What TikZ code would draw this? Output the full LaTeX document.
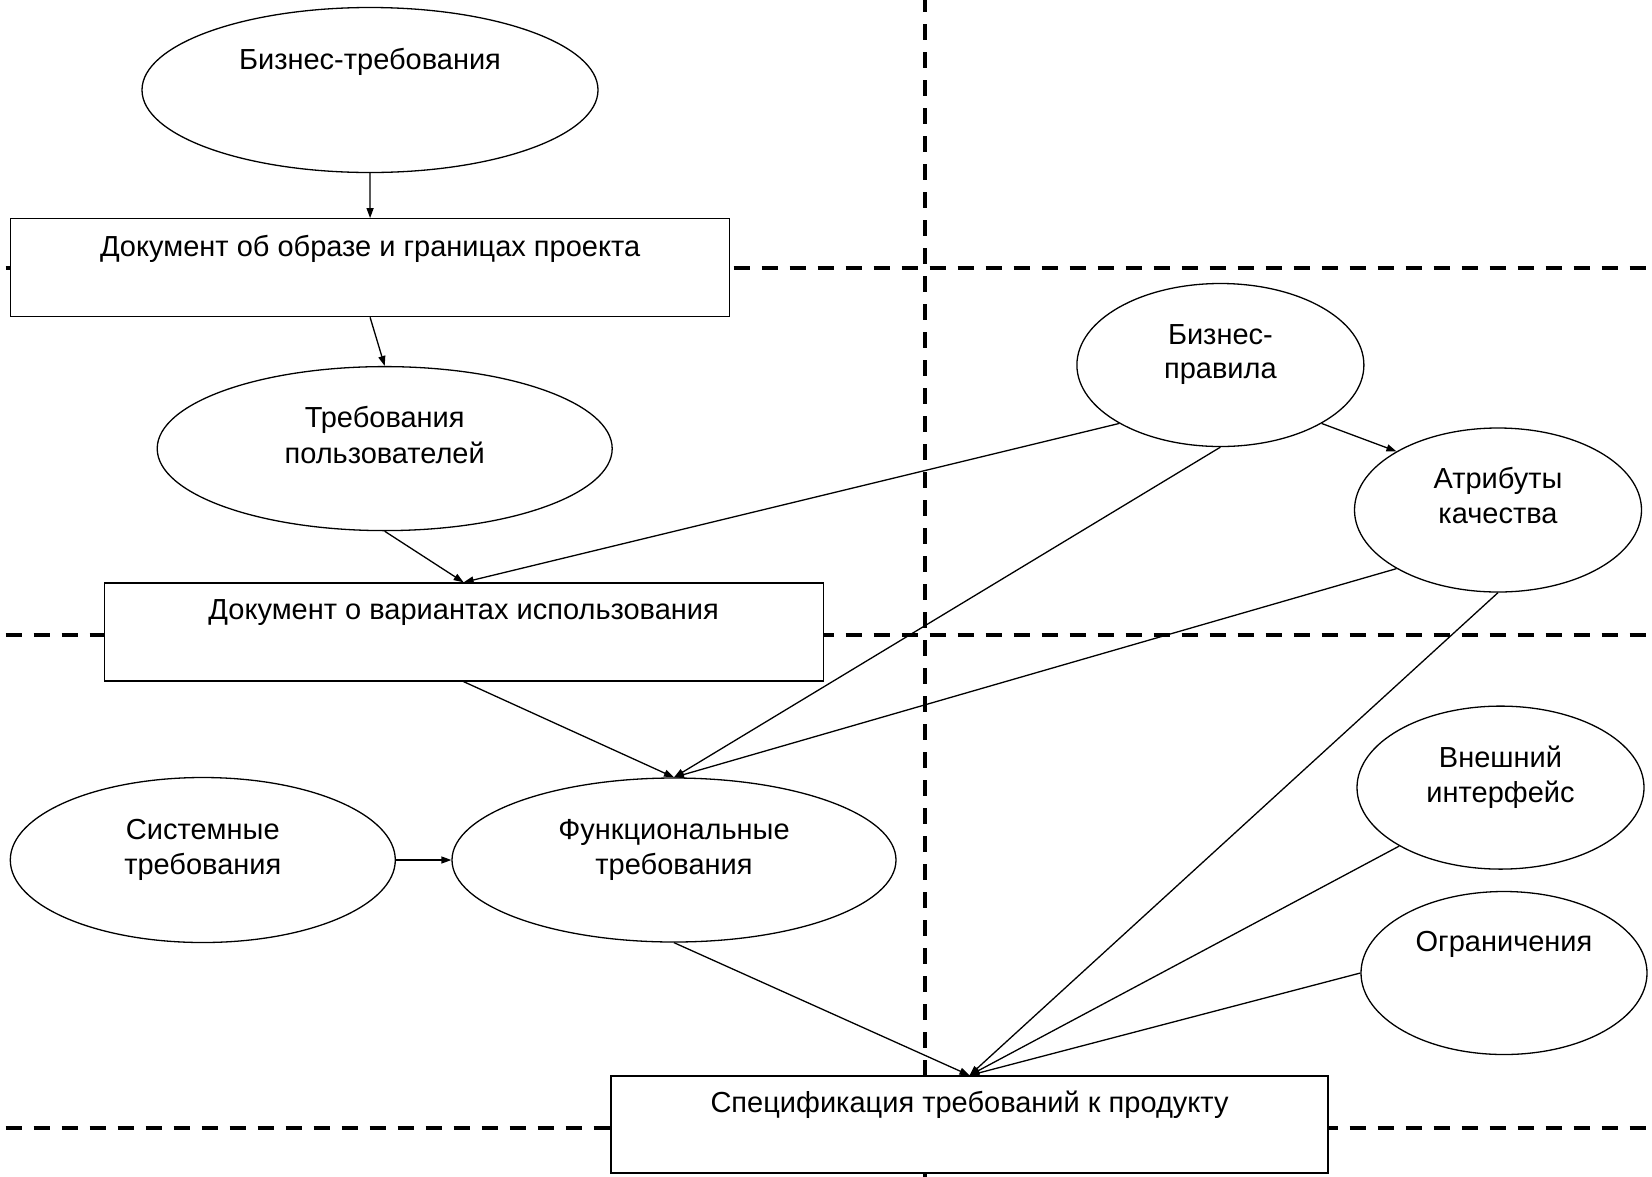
\documentclass[tikz,border=0pt]{standalone}
\usepackage{fontspec}
\setmainfont{Liberation Sans}
\usetikzlibrary{arrows.meta,shapes.geometric}
\tikzset{
  ell/.style={draw=black, line width=1.3pt, ellipse, fill=white, inner sep=0pt},
  docbox/.style={draw=black, line width=1.3pt, rectangle, fill=white, inner sep=0pt},
  txt/.style={inner sep=0pt, anchor=base, font=\fontsize{29}{35}\selectfont},
  conn/.style={line width=1.3pt},
  arr/.style={line width=1.3pt, -{Triangle[length=10pt,width=7pt]}},
  sep/.style={line width=4pt, dash pattern=on 16pt off 12pt}
}
\begin{document}
\begin{tikzpicture}[x=1pt,y=-1pt]
\useasboundingbox (0,0) rectangle (1652,1176);
% separators
\coordinate (h1a) at (5.7,268); \coordinate (h1b) at (1646,268);
\coordinate (h2a) at (5.7,635); \coordinate (h2b) at (1646,635);
\coordinate (h3a) at (5.7,1128); \coordinate (h3b) at (1646,1128);
\coordinate (v1a) at (925,-4); \coordinate (v1b) at (925,1180);
\draw[sep] (h1a) -- (h1b);
\draw[sep] (h2a) -- (h2b);
\draw[sep] (h3a) -- (h3b);
\draw[sep] (v1a) -- (v1b);
% shapes
\node[ell, minimum width=456pt, minimum height=165pt] (bt) at (370,90) {};
\node[docbox, minimum width=719pt, minimum height=98pt] (d1) at (370.1,267.7) {};
\node[ell, minimum width=455pt, minimum height=164pt] (up) at (384.7,448.6) {};
\node[docbox, minimum width=719pt, minimum height=98pt] (d2) at (463.65,632) {};
\node[ell, minimum width=385pt, minimum height=165pt] (sys) at (202.8,860) {};
\node[ell, minimum width=444pt, minimum height=164pt] (fr) at (674,860) {};
\node[ell, minimum width=287pt, minimum height=163pt] (bp) at (1220.4,365) {};
\node[ell, minimum width=287pt, minimum height=164pt] (attr) at (1498,510) {};
\node[ell, minimum width=287pt, minimum height=163pt] (ext) at (1500.5,787.6) {};
\node[ell, minimum width=286pt, minimum height=163pt] (ogr) at (1504,973) {};
\node[docbox, minimum width=717pt, minimum height=97pt] (spec) at (969.5,1124.5) {};
% texts
\node[txt] (tbt) at (370,69) {Бизнес-требования};
\node[txt] (td1) at (370.1,256) {Документ об образе и границах проекта};
\node[txt] (tup1) at (384.7,427) {Требования};
\node[txt] (tup2) at (384.7,463) {пользователей};
\node[txt] (td2) at (463.65,619.5) {Документ о вариантах использования};
\node[txt] (tsys1) at (202.8,839) {Системные};
\node[txt] (tsys2) at (202.8,874.5) {требования};
\node[txt] (tfr1) at (674,839) {Функциональные};
\node[txt] (tfr2) at (674,874.5) {требования};
\node[txt] (tbp1) at (1220.4,344) {Бизнес-};
\node[txt] (tbp2) at (1220.4,378.5) {правила};
\node[txt] (tat1) at (1498,488) {Атрибуты};
\node[txt] (tat2) at (1498,523) {качества};
\node[txt] (tex1) at (1500.5,767.6) {Внешний};
\node[txt] (tex2) at (1500.5,802) {интерфейс};
\node[txt] (togr) at (1504,951.3) {Ограничения};
\node[txt] (tspec) at (969.5,1112.6) {Спецификация требований к продукту};
% connectors
\draw[arr] (bt.south) -- (d1.north);
\draw[arr] (d1.south) -- (up.north);
\draw[arr] (up.south) -- (d2.north);
\draw[arr] (bp.210) -- (d2.north);
\draw[arr] (bp.-30) -- (attr.150);
\draw[arr] (d2.south) -- (fr.north);
\draw[arr] (bp.south) -- (fr.north);
\draw[arr] (attr.210) -- (fr.north);
\draw[arr] (sys.east) -- (fr.west);
\draw[arr] (fr.south) -- (spec.north);
\draw[arr] (attr.south) -- (spec.north);
\draw[arr] (ext.210) -- (spec.north);
\draw[arr] (ogr.west) -- (spec.north);
\end{tikzpicture}
\end{document}
